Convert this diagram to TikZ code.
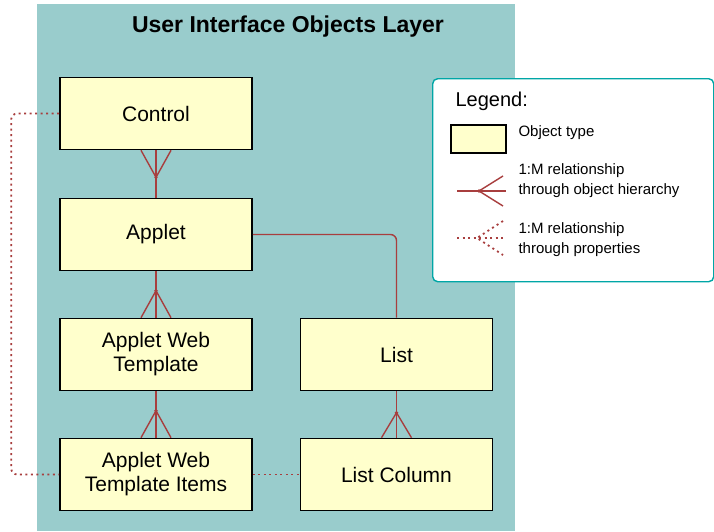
\documentclass[tikz,border=0pt]{standalone}
\usepackage{fontspec}
\setmainfont{Liberation Sans}
\usetikzlibrary{calc,positioning}
\definecolor{layerbg}{RGB}{153,204,204}
\definecolor{objfill}{RGB}{255,255,204}
\definecolor{relred}{RGB}{168,62,62}
\definecolor{legline}{RGB}{0,166,166}

\begin{document}
\begin{tikzpicture}[x=1pt, y=-1pt,
    objbox/.style={draw, line width=1.6pt, fill=objfill, minimum width=192pt,
                   minimum height=72pt, align=center,
                   font=\fontsize{21}{24}\selectfont},
    rel/.style={relred, line width=1.4pt},
    prop/.style={relred, line width=1.8pt, dash pattern=on 2pt off 3.5pt},
    legtext/.style={anchor=west, align=left, font=\fontsize{15}{20}\selectfont},
  ]
  \useasboundingbox (0,0) rectangle (714,531);
  \fill[layerbg] (37,4) rectangle (515,531);

  \node[font=\bfseries\fontsize{23}{26}\selectfont] (title) at (288,27) {User Interface Objects Layer};

  % object types
  \node[objbox] (ctrl) at (156,113.5) {Control};
  \node[objbox] (applet) at (156,234.5) {Applet};
  \node[objbox] (awt) at (156,354.5) {Applet Web\\Template};
  \node[objbox] (list) at (396.5,354.5) {List};
  \node[objbox] (awti) at (156,474.5) {Applet Web\\Template Items};
  \node[objbox] (lcol) at (396.5,474.5) {List Column};

  % 1:M through hierarchy
  \draw[rel] (ctrl) -- (applet);
  \draw[rel] ($(ctrl.south)+(-15,0)$) -- ++(15,27) -- ++(15,-27);
  \fill[relred] ($(ctrl.south)+(0,27)$) circle (1.8);

  \draw[rel] (applet) -- (awt);
  \draw[rel] ($(awt.north)+(-15,0)$) -- ++(15,-27) -- ++(15,27);
  \fill[relred] ($(awt.north)+(0,-27)$) circle (1.8);

  \draw[rel] (awt) -- (awti);
  \draw[rel] ($(awti.north)+(-15,0)$) -- ++(15,-27) -- ++(15,27);
  \fill[relred] ($(awti.north)+(0,-27)$) circle (1.8);

  \draw[rel] (list) -- (lcol);
  \draw[rel] ($(lcol.north)+(-15,0)$) -- ++(15,-25) -- ++(15,25);
  \fill[relred] ($(lcol.north)+(0,-25)$) circle (1.8);

  \draw[rel, rounded corners=6pt] (applet.east) -| (list.north);

  % 1:M through properties
  \draw[prop, rounded corners=6pt] (ctrl.west) -- ++(-48,0) |- (awti.west);
  \draw[prop] (awti) -- (lcol);

  % legend
  \node[draw=legline, line width=1.4pt, fill=white, rounded corners=5pt,
        minimum width=281pt, minimum height=203pt, anchor=north west] (legend) at (432,78) {};
  \node[anchor=west, font=\fontsize{20}{24}\selectfont] (legtitle) at (452,101) {Legend:};
  \node[draw, line width=1.6pt, fill=objfill, minimum width=55pt, minimum height=28pt,
        anchor=north west] (sample) at (450,124) {};
  \node[legtext] (ltype) at (515,133) {Object type};

  \coordinate (h1) at (457,191);
  \coordinate (h2) at (506,191);
  \coordinate (hfoot) at (479,191);
  \draw[rel] (h1) -- (h2);
  \draw[rel] (hfoot) ++(24,-15) -- (hfoot) -- ++(24,15);
  \fill[relred] (hfoot) circle (1.8);
  \node[legtext] (lhier) at (515,181) {1:M relationship\\through object hierarchy};

  \coordinate (p1) at (457,238);
  \coordinate (p2) at (506,238);
  \coordinate (pfoot) at (477,238);
  \draw[prop] (p1) -- (p2);
  \draw[prop] (pfoot) ++(26,-17) -- (pfoot) -- ++(26,17);
  \node[legtext] (lprop) at (515,240) {1:M relationship\\through properties};
\end{tikzpicture}
\end{document}
